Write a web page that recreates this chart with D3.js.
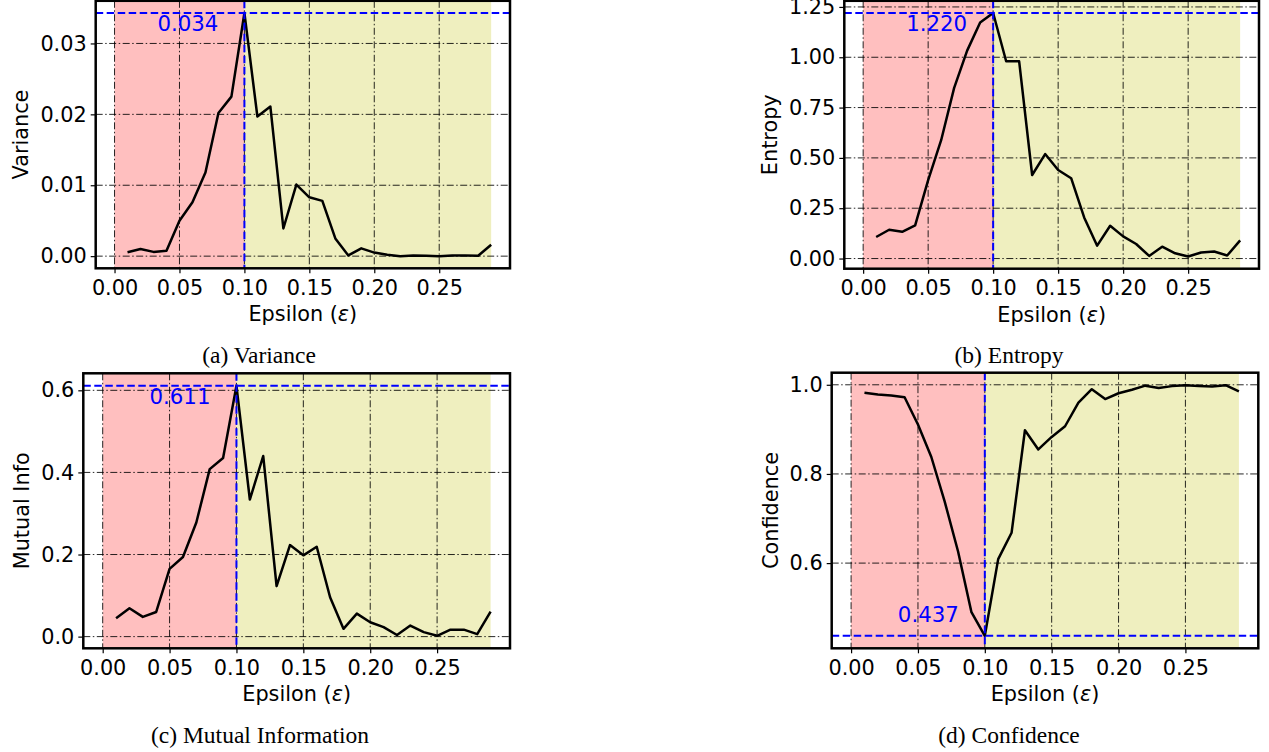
<!DOCTYPE html>
<html>
<head>
<meta charset="utf-8">
<script src="https://cdn.jsdelivr.net/npm/d3@7"></script>
<style>
body { margin: 0; background: #fff; }
text { font-family: "DejaVu Sans", sans-serif; }
</style>
</head>
<body>
<svg id="fig" width="1269" height="752"></svg>
<script>
// epsilon values (x)
var epsilon = [0.01, 0.02, 0.03, 0.04, 0.05, 0.06, 0.07, 0.08, 0.09, 0.10,
               0.11, 0.12, 0.13, 0.14, 0.15, 0.16, 0.17, 0.18, 0.19, 0.20,
               0.21, 0.22, 0.23, 0.24, 0.25, 0.26, 0.27, 0.28, 0.29];

var variance = [0.00056, 0.0010, 0.0006, 0.00075, 0.0050, 0.0076, 0.0118, 0.0202, 0.0225, 0.0343,
                0.0197, 0.0211, 0.0039, 0.0101, 0.0083, 0.0078, 0.0025, 0.0001, 0.0011, 0.0005,
                0.0002, 0.0000, 0.0001, 0.00005, 0.0000, 0.0001, 0.0001, 0.00005, 0.0016];

var entropy = [0.107, 0.143, 0.133, 0.165, 0.39, 0.588, 0.848, 1.033, 1.173, 1.220,
               0.98, 0.98, 0.415, 0.519, 0.44, 0.399, 0.204, 0.064, 0.163, 0.11,
               0.072, 0.013, 0.059, 0.026, 0.01, 0.03, 0.035, 0.015, 0.09];

var mutualInfo = [0.045, 0.069, 0.048, 0.06, 0.165, 0.194, 0.278, 0.408, 0.435, 0.611,
                  0.334, 0.44, 0.123, 0.223, 0.198, 0.219, 0.096, 0.019, 0.056, 0.035,
                  0.023, 0.004, 0.027, 0.011, 0.002, 0.017, 0.017, 0.006, 0.061];

var confidence = [0.982, 0.978, 0.976, 0.972, 0.911, 0.838, 0.738, 0.626, 0.49, 0.437,
                  0.609, 0.668, 0.898, 0.855, 0.883, 0.907, 0.96, 0.99, 0.968, 0.981,
                  0.989, 0.998, 0.993, 0.997, 0.999, 0.997, 0.996, 0.999, 0.985];

var xTicks = [0, 0.05, 0.10, 0.15, 0.20, 0.25];
var redSpan = [0, 0.10];
var yellowSpan = [0.10, 0.29];

var svg = d3.select("#fig");
svg.append("rect").attr("width", 1269).attr("height", 752).attr("fill", "#fff");

var panels = [
    { values: variance, ylabel: "Variance", caption: "(a) Variance", yTicks: [0, 0.01, 0.02, 0.03], fmt: ".2f",
      left: 95.7, right: 510, top: 0.8, bottom: 268.3, mode: "max", capX: 259, capY: 362.5 },
    { values: entropy, ylabel: "Entropy", caption: "(b) Entropy", yTicks: [0, 0.25, 0.5, 0.75, 1.0, 1.25], fmt: ".2f",
      left: 844.3, right: 1259, top: 0.8, bottom: 268.7, mode: "max", capX: 1009, capY: 362.5 },
    { values: mutualInfo, ylabel: "Mutual Info", caption: "(c) Mutual Information", yTicks: [0, 0.2, 0.4, 0.6], fmt: ".1f",
      left: 83.3, right: 510, top: 373.3, bottom: 648.3, mode: "max", capX: 260, capY: 743 },
    { values: confidence, ylabel: "Confidence", caption: "(d) Confidence", yTicks: [0.6, 0.8, 1.0], fmt: ".1f",
      left: 831.7, right: 1258.3, top: 372.7, bottom: 648.3, mode: "min", capX: 1009, capY: 743 }
];

var fontSize = 20.8;

panels.forEach(function (p) {
    var data = epsilon.map(function (e, i) { return { x: e, y: p.values[i] }; });

    // matplotlib-like 5% margins
    var xr = [redSpan[0], yellowSpan[1]];
    var xm = (xr[1] - xr[0]) * 0.05;
    var x = d3.scaleLinear().domain([xr[0] - xm, xr[1] + xm]).range([p.left, p.right]);

    var ymin = d3.min(p.values), ymax = d3.max(p.values);
    var ym = (ymax - ymin) * 0.05;
    var y = d3.scaleLinear().domain([ymin - ym, ymax + ym]).range([p.bottom, p.top]);

    var g = svg.append("g");

    // shaded regions
    g.append("rect")
        .attr("x", x(redSpan[0])).attr("width", x(redSpan[1]) - x(redSpan[0]))
        .attr("y", p.top).attr("height", p.bottom - p.top)
        .attr("fill", "#ffbfbf");
    g.append("rect")
        .attr("x", x(yellowSpan[0])).attr("width", x(yellowSpan[1]) - x(yellowSpan[0]))
        .attr("y", p.top).attr("height", p.bottom - p.top)
        .attr("fill", "#efefbf");

    // grid
    g.selectAll(".vgrid").data(xTicks).enter().append("line")
        .attr("x1", function (d) { return x(d); }).attr("x2", function (d) { return x(d); })
        .attr("y1", p.top).attr("y2", p.bottom)
        .attr("stroke", "#000").attr("stroke-opacity", 0.85).attr("stroke-width", 1)
        .attr("stroke-dasharray", "7,2.5,1.5,2.5");
    g.selectAll(".hgrid").data(p.yTicks).enter().append("line")
        .attr("y1", function (d) { return y(d); }).attr("y2", function (d) { return y(d); })
        .attr("x1", p.left).attr("x2", p.right)
        .attr("stroke", "#000").attr("stroke-opacity", 0.85).attr("stroke-width", 1)
        .attr("stroke-dasharray", "7,2.5,1.5,2.5");

    // data line
    var line = d3.line().x(function (d) { return x(d.x); }).y(function (d) { return y(d.y); });
    g.append("path").datum(data)
        .attr("d", line)
        .attr("fill", "none").attr("stroke", "#000").attr("stroke-width", 2.5)
        .attr("stroke-linejoin", "round");

    // peak / valley markers
    var idx = p.mode === "max" ? d3.maxIndex(p.values) : d3.minIndex(p.values);
    var px = epsilon[idx], py = p.values[idx];
    g.append("line")
        .attr("x1", x(px)).attr("x2", x(px)).attr("y1", p.top).attr("y2", p.bottom)
        .attr("stroke", "#0000ff").attr("stroke-width", 2).attr("stroke-dasharray", "7.5,3.5");
    g.append("line")
        .attr("x1", p.left).attr("x2", p.right).attr("y1", y(py)).attr("y2", y(py))
        .attr("stroke", "#0000ff").attr("stroke-width", 2).attr("stroke-dasharray", "7.5,3.5");
    g.append("text")
        .attr("x", x(px) - 26)
        .attr("y", p.mode === "max" ? y(py) + 18.5 : y(py) - 13.3)
        .attr("text-anchor", "end")
        .attr("font-size", 21.3)
        .attr("fill", "#0000ff")
        .text(d3.format(".3f")(py));

    // axes
    var xAxis = g.append("g")
        .attr("transform", "translate(0," + p.bottom + ")")
        .call(d3.axisBottom(x).tickValues(xTicks).tickFormat(d3.format(".2f")).tickSize(5).tickPadding(7));
    var yAxis = g.append("g")
        .attr("transform", "translate(" + p.left + ",0)")
        .call(d3.axisLeft(y).tickValues(p.yTicks).tickFormat(d3.format(p.fmt)).tickSize(5).tickPadding(4));
    [xAxis, yAxis].forEach(function (a) {
        a.select(".domain").remove();
        a.selectAll(".tick line").attr("stroke", "#000").attr("stroke-width", 1.2);
        a.selectAll("text").attr("font-size", fontSize).attr("fill", "#000")
            .attr("font-family", "DejaVu Sans");
    });

    // spines
    g.append("rect")
        .attr("x", p.left).attr("y", p.top)
        .attr("width", p.right - p.left).attr("height", p.bottom - p.top)
        .attr("fill", "none").attr("stroke", "#000").attr("stroke-width", 2.5);

    // x label
    var xl = g.append("text")
        .attr("x", (p.left + p.right) / 2)
        .attr("y", p.bottom + 53)
        .attr("text-anchor", "middle")
        .attr("font-size", fontSize);
    xl.append("tspan").text("Epsilon (");
    xl.append("tspan").attr("font-style", "italic").text("\u03b5");
    xl.append("tspan").text(")");

    // y label, placed left of the widest tick label
    var bb = yAxis.node().getBBox();
    var lx = p.left + bb.x - 12;
    g.append("text")
        .attr("transform", "translate(" + lx + "," + ((p.top + p.bottom) / 2) + ") rotate(-90)")
        .attr("text-anchor", "middle")
        .attr("font-size", fontSize)
        .text(p.ylabel);

    // caption
    svg.append("text")
        .attr("x", p.capX).attr("y", p.capY)
        .attr("text-anchor", "middle")
        .style("font-family", "'Liberation Serif', 'Times New Roman', serif")
        .attr("font-size", 23.5)
        .text(p.caption);
});
</script>
</body>
</html>
